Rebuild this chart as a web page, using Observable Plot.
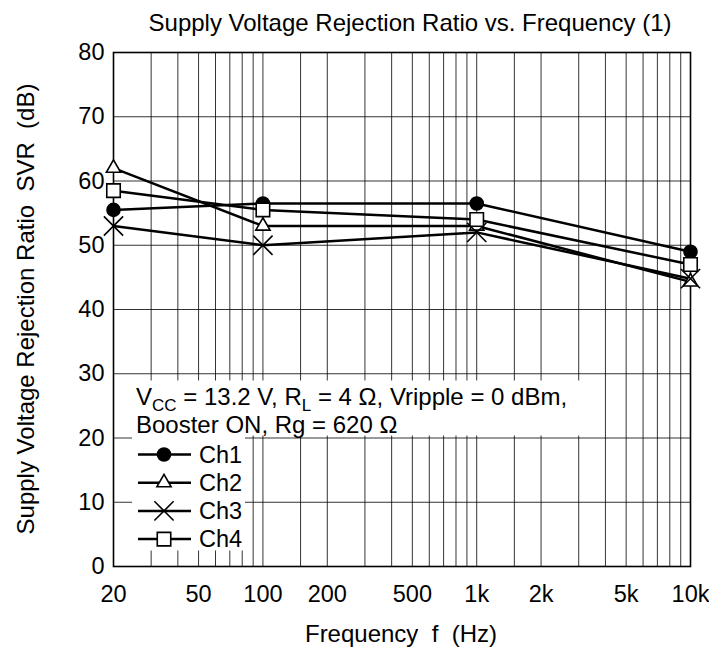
<!DOCTYPE html>
<html>
<head>
<meta charset="utf-8">
<script src="https://cdn.jsdelivr.net/npm/d3@7"></script>
<script src="https://cdn.jsdelivr.net/npm/@observablehq/plot@0.6"></script>
<style>
  html, body { margin: 0; padding: 0; background: #fff; }
  svg text { white-space: pre; }
</style>
</head>
<body>
<div id="chart"></div>
<script>
// ---- data ----
const frequencies = [20, 100, 1000, 10000];
const ch1 = [55.5, 56.5, 56.5, 49.0];
const ch2 = [62.0, 53.0, 53.0, 44.3];
const ch3 = [53.0, 50.0, 52.0, 44.8];
const ch4 = [58.5, 55.5, 54.0, 47.0];
const seriesNames = ["Ch1", "Ch2", "Ch3", "Ch4"];

const xTicks = [20, 50, 100, 200, 500, 1000, 2000, 5000, 10000];
const xTickLabels = ["20", "50", "100", "200", "500", "1k", "2k", "5k", "10k"];
const xGrid = [20, 30, 40, 50, 60, 70, 80, 90, 100, 150, 200, 300, 400, 500, 600, 700, 800, 900,
               1000, 1500, 2000, 3000, 4000, 5000, 6000, 7000, 8000, 9000, 10000];
const yTicks = [0, 10, 20, 30, 40, 50, 60, 70, 80];

const titleText = "Supply Voltage Rejection Ratio vs. Frequency (1)";
const xLabel = "Frequency  f  (Hz)";
const yLabel = "Supply Voltage Rejection Ratio  SVR  (dB)";

// ---- styling per series ----
const seriesValues = [ch1, ch2, ch3, ch4];
const symbols = ["circle", "triangle", "times", "square"];
const fills = ["black", "white", "none", "white"];
const radii = [6.5, 5.3, 8.8, 7.6];
const d3Symbols = {circle: d3.symbolCircle, triangle: d3.symbolTriangle, times: d3.symbolTimes, square: d3.symbolSquare};

const rows = seriesNames.flatMap((name, s) =>
  frequencies.map((f, i) => ({ch: name, f, v: seriesValues[s][i]})));

function decorations(index, scales, values, dims) {
  const g = d3.create("svg:g").attr("text-anchor", "start");
  const x0 = scales.x(20);   // left frame edge
  const y20 = scales.y(20);
  // white boxes behind annotation & legend
  g.append("rect").attr("x", x0 + 19).attr("y", y20 - 57).attr("width", 452).attr("height", 55).attr("fill", "white");
  g.append("rect").attr("x", x0 + 19).attr("y", y20 - 3).attr("width", 113).attr("height", 116).attr("fill", "white");

  const t1 = g.append("text").attr("x", x0 + 23).attr("y", y20 - 33).attr("font-size", 24);
  t1.append("tspan").text("V");
  t1.append("tspan").attr("dy", 6).attr("font-size", 17).text("CC");
  t1.append("tspan").attr("dy", -6).text(" = 13.2 V, R");
  t1.append("tspan").attr("dy", 6).attr("font-size", 17).text("L");
  t1.append("tspan").attr("dy", -6).text(" = 4 \u03A9, Vripple = 0 dBm,");
  g.append("text").attr("x", x0 + 23).attr("y", y20 - 5).attr("font-size", 24).text("Booster ON, Rg = 620 \u03A9");

  seriesNames.forEach((name, i) => {
    const ry = y20 + 17 + i * 28.2;
    g.append("line").attr("x1", x0 + 25).attr("x2", x0 + 78).attr("y1", ry).attr("y2", ry)
      .attr("stroke", "black").attr("stroke-width", 2.5);
    g.append("path").attr("transform", `translate(${x0 + 51},${ry})`)
      .attr("d", d3.symbol(d3Symbols[symbols[i]], Math.PI * radii[i] * radii[i])())
      .attr("fill", fills[i]).attr("stroke", "black").attr("stroke-width", 1.6);
    g.append("text").attr("x", x0 + 86).attr("y", ry + 8).attr("font-size", 23.5).text(name);
  });

  // title and axis labels
  g.append("text").attr("x", 410).attr("y", 31).attr("text-anchor", "middle").attr("font-size", 24).text(titleText);
  g.append("text").attr("x", 401).attr("y", 642).attr("text-anchor", "middle").attr("font-size", 24).text(xLabel);
  g.append("text").attr("transform", `translate(34,${(scales.y(0) + scales.y(80)) / 2}) rotate(-90)`)
    .attr("text-anchor", "middle").attr("font-size", 24).text(yLabel);
  return g.node();
}

const marks = [
  Plot.ruleX(xGrid, {stroke: "black", strokeWidth: 1, strokeOpacity: 0.8}),
  Plot.ruleY(yTicks, {stroke: "black", strokeWidth: 1, strokeOpacity: 0.8}),
  decorations,
  Plot.frame({stroke: "black", strokeWidth: 1.6}),
  Plot.line(rows, {x: "f", y: "v", z: "ch", stroke: "black", strokeWidth: 2.5}),
  ...seriesNames.map((name, s) =>
    Plot.dot(rows.filter(d => d.ch === name), {
      x: "f", y: "v", symbol: () => symbols[s], r: radii[s],
      fill: fills[s], stroke: "black", strokeWidth: 1.6
    })),
  Plot.text(xTicks, {x: d => d, text: (d, i) => xTickLabels[i], frameAnchor: "bottom",
                     lineAnchor: "top", dy: 19, fontSize: 23.5, fill: "black"}),
  Plot.axisY(yTicks, {tickSize: 0, tickPadding: 9, label: null, fontSize: 23.5})
];

const chart = Plot.plot({
  width: 709,
  height: 656,
  marginTop: 52,
  marginBottom: 90,
  marginLeft: 113,
  marginRight: 19,
  style: {fontFamily: "'Liberation Sans', Arial, sans-serif", fontSize: "23.5px", color: "black", background: "white"},
  x: {type: "log", domain: [20, 10000], axis: null},
  y: {domain: [0, 80]},
  symbol: {type: "identity"},
  marks
});
document.getElementById("chart").appendChild(chart);
</script>
</body>
</html>
